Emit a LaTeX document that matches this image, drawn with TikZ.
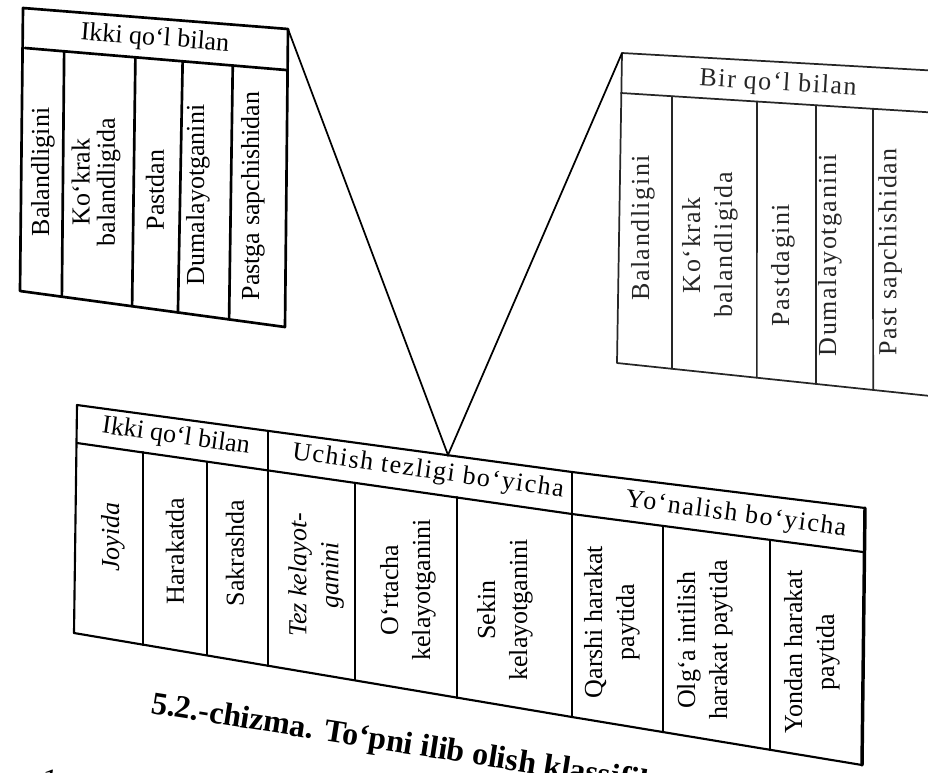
\documentclass[tikz,border=0pt]{standalone}
\usepackage{fontspec}
\setmainfont{Liberation Serif}
\newfontfamily\widefont[LetterSpace=6]{Liberation Serif}
\usetikzlibrary{calc}
\newcommand\tabfont{\fontsize{19.5}{24}\selectfont}
\newcommand\tightfont{\fontsize{19.5}{19}\selectfont}
\tikzset{
  gridline/.style={line width=1.6pt,line cap=round,line join=round},
  boldgrid/.style={gridline,line width=2pt},
  faintgrid/.style={gridline,line width=1.3pt,black!85},
  vline/.style={line width=1.3pt},
  cell/.style={font=\tabfont,align=center,inner sep=0pt,rotate=90},
  tlcell/.style={cell,font=\tightfont},
  trcell/.style={cell,font=\tabfont\widefont,text=black!85},
  headtext/.style={font=\tabfont,inner sep=0pt},
  widehead/.style={font=\tabfont\widefont,inner sep=0pt},
  captext/.style={font=\fontsize{24}{26}\selectfont\bfseries,inner sep=0pt,anchor=base west,rotate=-9},
}

\begin{document}
\begin{tikzpicture}[x=0.75pt,y=-0.75pt]
  \clip (0,0) rectangle (928,772);

  % Ikki qo'l bilan (upper left)
  \coordinate (tlA) at (23,8);
  \coordinate (tlB) at (288,29);
  \coordinate (tlC) at (285,327);
  \coordinate (tlD) at (20,291);
  \coordinate (tlH1) at (25,48);
  \coordinate (tlH2) at (286,70);
  \draw[boldgrid] (tlA) -- (tlB) -- (tlC) -- (tlD) -- cycle;
  \draw[boldgrid] (tlH1) -- (tlH2);
  \foreach \t/\b in {0.15/0.158,0.423/0.423,0.604/0.596,0.796/0.789}
    \draw[boldgrid] ($(tlH1)!\t!(tlH2)$) -- ($(tlD)!\b!(tlC)$);
  \node[headtext,rotate=-4.5] (tlhead) at (155,39) {Ikki qo‘l bilan};
  \node[tlcell] (tl1) at (43,172) {Balandligini};
  \node[tlcell] (tl2) at (96,182) {Ko‘krak\\balandligida};
  \node[tlcell] (tl3) at (155,190) {Pastdan};
  \node[tlcell] (tl4) at (198,195) {Dumalayotganini};
  \node[tlcell] (tl5) at (253,196) {Pastga sapchishidan};

  % Bir qo'l bilan (upper right)
  \coordinate (trA) at (622,53);
  \coordinate (trB) at (940,71);
  \coordinate (trC) at (940,397);
  \coordinate (trD) at (617,363);
  \coordinate (trH1) at (621,93);
  \coordinate (trH2) at (940,113);
  \draw[faintgrid] (trA) -- (trB) -- (trC) -- (trD) -- cycle;
  \draw[faintgrid] (trH1) -- (trH2);
  \foreach \t/\b in {0.16/0.17,0.426/0.433,0.611/0.616,0.79/0.793}
    \draw[faintgrid] ($(trH1)!\t!(trH2)$) -- ($(trD)!\b!(trC)$);
  \node[widehead,text=black!85,rotate=-3.5] (trhead) at (778,84) {Bir qo‘l bilan};
  \node[trcell] (tr1) at (643,228) {Balandligini};
  \node[trcell] (tr2) at (710,245) {Ko‘krak\\balandligida};
  \node[trcell] (tr3) at (783,265) {Pastdagini};
  \node[trcell] (tr4) at (830,255) {Dumalayotganini};
  \node[trcell] (tr5) at (890,252) {Past sapchishidan};

  % main table
  \coordinate (bA) at (77,405);
  \coordinate (bM) at (572,472);
  \coordinate (bB) at (865,508);
  \coordinate (bH1) at (77,443);
  \coordinate (bHM) at (572,514);
  \coordinate (bH2) at (863,552);
  \coordinate (bD) at (74,633);
  \coordinate (bDM) at (572,717);
  \coordinate (bC) at (862,765);
  \draw[gridline] (bA) -- (bM) -- (bB);
  \draw[gridline] (bH1) -- (bHM) -- (bH2);
  \draw[gridline] (bD) -- (bDM) -- (bC);
  \draw[gridline] (bA) -- (bD);
  \draw[gridline] (268,431) -- (268,666);
  \draw[gridline] (bM) -- (bDM);
  \draw[gridline,line width=2.6pt] (bB) -- (bC);
  \foreach \x/\t/\b in {143/452/645,207/462/655,355/483/680,457/497/698,663/526/732,770/540/750}
    \draw[gridline] (\x,\t) -- (\x,\b);
  \node[headtext,rotate=-8] (bhead1) at (176,437) {Ikki qo‘l bilan};
  \node[widehead,rotate=-8] (bhead2) at (428,472) {Uchish tezligi bo‘yicha};
  \node[widehead,rotate=-7.5] (bhead3) at (736,515) {Yo‘nalish bo‘yicha};
  \node[cell,font=\tabfont\itshape] (b1) at (113,537) {Joyida};
  \node[cell] (b2) at (175,551) {Harakatda};
  \node[cell] (b3) at (235,553) {Sakrashda};
  \node[cell,font=\tabfont\itshape] (b4) at (316,575) {Tez kelayot-\\ganini};
  \node[cell] (b5) at (408,590) {O‘rtacha\\kelayotganini};
  \node[cell] (b6) at (505,610) {Sekin\\kelayotganini};
  \node[cell] (b7) at (612,622) {Qarshi harakat\\paytida};
  \node[cell] (b8) at (705,640) {Olg‘a intilish\\harakat paytida};
  \node[cell] (b9) at (812,652) {Yondan harakat\\paytida};

  % links
  \coordinate (vtip) at (448,455);
  \draw[vline] (tlB) -- (vtip) -- (trA);

  \node[captext] (caption) at (150,713) {5.2.-chizma. To‘pni ilib olish klassifikatsiyasi};
  \node[captext,font=\fontsize{24}{26}\selectfont] (nextline) at (40,789) {1. P};
\end{tikzpicture}
\end{document}
